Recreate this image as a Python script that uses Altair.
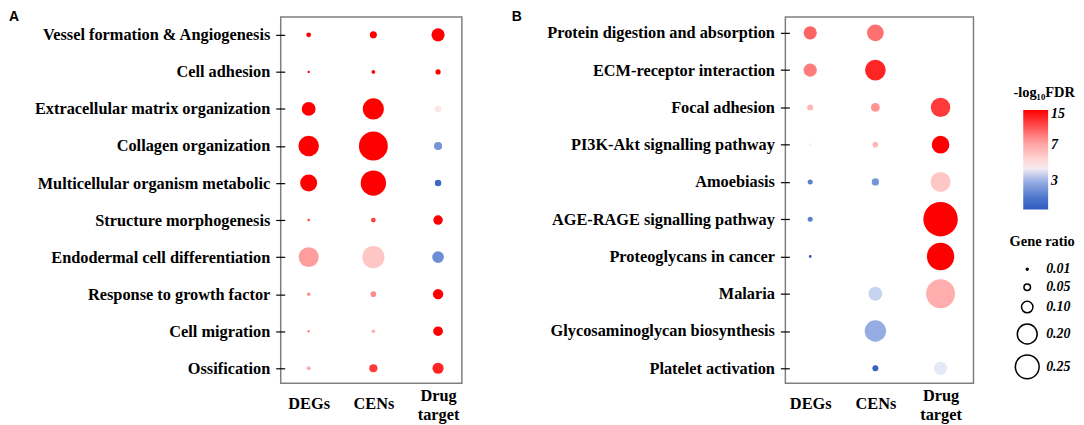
import altair as alt
import pandas as pd

groups = ["DEGs", "CENs", "Drug target"]

# Panel A: GO terms
a_terms = [
    "Vessel formation & Angiogenesis", "Cell adhesion", "Extracellular matrix organization",
    "Collagen organization", "Multicellular organism metabolic", "Structure morphogenesis",
    "Endodermal cell differentiation", "Response to growth factor", "Cell migration", "Ossification",
]
a_deg_ratio = [0.033, 0.014, 0.127, 0.208, 0.164, 0.018, 0.201, 0.021, 0.014, 0.028]
a_deg_fdr = [16, 16, 16, 16, 16, 10.5, 7.5, 8.5, 9, 6.7]
a_cen_ratio = [0.055, 0.025, 0.216, 0.318, 0.270, 0.033, 0.231, 0.041, 0.023, 0.066]
a_cen_fdr = [16, 16, 16, 16, 16, 12, 5.5, 8.3, 7, 12]
a_drug_ratio = [0.120, 0.038, 0.049, 0.066, 0.049, 0.079, 0.103, 0.088, 0.081, 0.097]
a_drug_fdr = [16, 15, 4.4, 2.5, 1.7, 16, 2.4, 16, 16, 13]

# Panel B: KEGG pathways (None = not enriched)
b_terms = [
    "Protein digestion and absorption", "ECM-receptor interaction", "Focal adhesion",
    "PI3K-Akt signalling pathway", "Amoebiasis", "AGE-RAGE signalling pathway",
    "Proteoglycans in cancer", "Malaria", "Glycosaminoglycan biosynthesis", "Platelet activation",
]
b_deg_ratio = [0.120, 0.120, 0.044, 0.014, 0.036, 0.036, 0.018, None, None, None]
b_deg_fdr = [10, 9, 6.3, 4.4, 2.2, 2.2, 1.5, None, None, None]
b_cen_ratio = [0.161, 0.208, 0.072, 0.041, 0.057, None, None, 0.127, 0.219, 0.044]
b_cen_fdr = [9.5, 13, 8, 6.3, 2.5, None, None, 3.4, 2.9, 1.6]
b_drug_ratio = [None, None, 0.194, 0.172, 0.201, 0.396, 0.297, 0.318, None, 0.120]
b_drug_fdr = [None, None, 12, 16, 5.5, 16, 16, 6.8, None, 3.75]

panel_letters = ["A", "B"]

# colour scale stops (-log10 FDR)
fdr_domain = [1.5, 2.2, 3.0, 3.7, 4.2, 5.5, 7, 9, 12, 15, 16.4]
fdr_colors = ["#2F5CBF", "#5A80D0", "#9DB2E6", "#E2E9F8", "#FFEDED", "#FFC6C6",
              "#FFAAAA", "#FF7C7C", "#FF3A3A", "#FF0000", "#FF0000"]
ratio_legend_values = [0.01, 0.05, 0.1, 0.2, 0.25]
fdr_legend_values = [3, 7, 15]


def build(terms, cols):
    rows = []
    for g, (ratios, fdrs) in zip(groups, cols):
        for t, r, f in zip(terms, ratios, fdrs):
            if r is not None:
                rows.append({"term": t, "group": g, "ratio": r, "fdr": f})
    return pd.DataFrame(rows)


df_a = build(a_terms, [(a_deg_ratio, a_deg_fdr), (a_cen_ratio, a_cen_fdr), (a_drug_ratio, a_drug_fdr)])
df_b = build(b_terms, [(b_deg_ratio, b_deg_fdr), (b_cen_ratio, b_cen_fdr), (b_drug_ratio, b_drug_fdr)])

SERIF = "Liberation Serif"
FS = 16.4

size_scale = alt.Scale(type="pow", exponent=1.6, domain=[0, 0.4], range=[0, 1213])
color_scale = alt.Scale(type="log", domain=fdr_domain, range=fdr_colors, clamp=True, interpolate="rgb")

size_legend = alt.Legend(
    title="Gene ratio", orient="none", legendX=225, legendY=219,
    values=ratio_legend_values, format=".2f",
    symbolType="circle", symbolFillColor="transparent", symbolStrokeColor="black",
    symbolStrokeWidth=1.5, symbolOpacity=1, labelOffset=6, rowPadding=4,
    titleAnchor="middle", titleFont=SERIF, titleFontSize=14.5, titleFontWeight="bold",
    titleColor="black", titlePadding=13, labelFont=SERIF, labelFontSize=14,
    labelFontStyle="italic", labelFontWeight="bold", labelColor="black",
)
color_legend = alt.Legend(
    title="-log₁₀FDR", orient="none", legendX=229, legendY=69,
    gradientLength=100, gradientThickness=25, values=fdr_legend_values,
    titleAnchor="middle", labelOffset=3, gradientStrokeWidth=0,
    titleFont=SERIF, titleFontSize=14.5, titleFontWeight="bold", titleColor="black",
    titlePadding=10, labelFont=SERIF, labelFontSize=14, labelFontStyle="italic",
    labelFontWeight="bold", labelColor="black", labelOverlap=False, direction="vertical",
)


def panel(df, terms, letter, width, height, xpad, xalign, ypad, yalign, lx, with_legend):
    points = alt.Chart(df).mark_circle(opacity=1).encode(
        x=alt.X(
            "group:N",
            scale=alt.Scale(type="point", domain=groups, padding=xpad, align=xalign),
            axis=alt.Axis(
                title=None, ticks=False, tickSize=0, domain=False, grid=False, labelAngle=0,
                labelExpr="datum.value == 'Drug target' ? ['Drug', 'target'] : datum.value",
                labelFont=SERIF, labelFontSize=FS, labelFontWeight="bold", labelColor="black",
                labelBaseline="middle", labelLineHeight=19,
                labelPadding={"condition": {"test": "datum.value == 'Drug target'", "value": 12},
                              "value": 20},
            ),
        ),
        y=alt.Y(
            "term:N",
            scale=alt.Scale(type="point", domain=terms, padding=ypad, align=yalign),
            axis=alt.Axis(
                title=None, domain=False, grid=False, offset=-4, tickSize=9, tickColor="black",
                tickWidth=1.2, labelPadding=6, labelLimit=400,
                labelFont=SERIF, labelFontSize=FS, labelFontWeight="bold", labelColor="black",
            ),
        ),
        size=alt.Size("ratio:Q", scale=size_scale, legend=size_legend if with_legend else None),
        color=alt.Color("fdr:Q", scale=color_scale, legend=color_legend if with_legend else None),
    )
    tag = alt.Chart(pd.DataFrame({"letter": [letter]})).mark_text(
        font="Liberation Sans", fontSize=14, fontWeight="bold", align="left",
        baseline="top", color="black",
    ).encode(text="letter:N", x=alt.value(lx), y=alt.value(-7))
    return alt.layer(points, tag).properties(width=width, height=height)


chart_a = panel(df_a, a_terms, panel_letters[0], 182, 368, 0.4, 0.54, 0.444, 0.545, -273, False)
chart_b = panel(df_b, b_terms, panel_letters[1], 189, 368, 0.443, 0.43, 0.414, 0.516, -275, True)

chart = alt.hconcat(chart_a, chart_b, spacing=48).resolve_scale(
    x="independent", y="independent", color="independent", size="independent"
).resolve_legend(color="independent", size="independent").properties(
    padding=0
).configure_view(stroke="#7f7f7f", strokeWidth=1.5)

chart.save("out.html", embed_options={"renderer": "svg", "actions": False})
